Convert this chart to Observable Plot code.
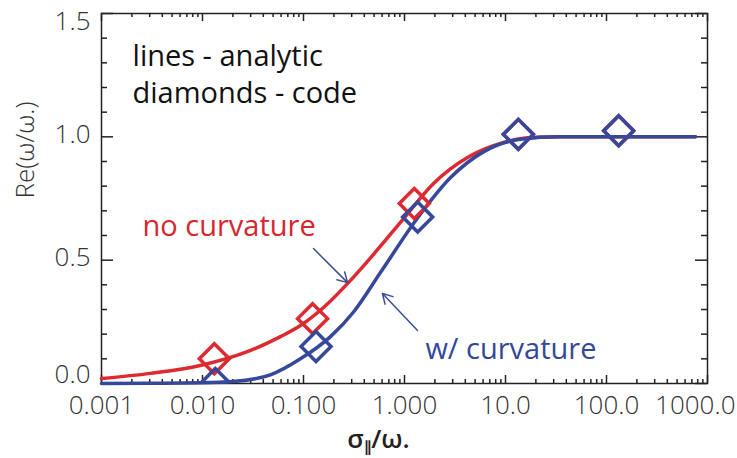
<!DOCTYPE html>
<html>
<head>
<meta charset="utf-8">
<script src="https://cdn.jsdelivr.net/npm/d3@7"></script>
<script src="https://cdn.jsdelivr.net/npm/@observablehq/plot@0.6"></script>
<style>
  html, body { margin: 0; padding: 0; background: #fff; }
  #chart svg { display: block; }
</style>
</head>
<body>
<div id="chart"></div>
<script>
// ---- data ----
const redX  = [0.001, 0.00305, 0.0095, 0.0299, 0.0592, 0.0933, 0.158, 0.292, 0.43, 0.912, 1.94, 4.2, 8.9, 17.7, 35, 760];
const redY  = [0.020, 0.041, 0.073, 0.134, 0.19, 0.235, 0.308, 0.418, 0.495, 0.653, 0.811, 0.916, 0.973, 0.997, 1.0, 1.0];
const blueX = [0.001, 0.00305, 0.0095, 0.02, 0.047, 0.0933, 0.185, 0.313, 0.578, 1.34, 2.86, 6.1, 14, 35, 760];
const blueY = [0.0, 0.001, 0.003, 0.008, 0.035, 0.10, 0.19, 0.29, 0.45, 0.67, 0.835, 0.94, 0.99, 1.0, 1.0];

const redDiamondX  = [0.0131, 0.123, 1.25, 13.4, 132];
const redDiamondY  = [0.10, 0.263, 0.73, 1.01, 1.025];
const blueDiamondX = [0.0134, 0.133, 1.35, 13.4, 132];
const blueDiamondY = [0.0, 0.15, 0.675, 1.01, 1.025];

const xMajor  = [0.001, 0.01, 0.1, 1, 10, 100, 1000];
const xLabels = ["0.001", "0.010", "0.100", "1.000", "10.0", "100.0", "1000.0"];
const xMinor  = xMajor.slice(0, -1).flatMap(d => [2, 3, 4, 5, 6, 7, 8, 9].map(m => d * m));
const yMajor  = [0, 0.5, 1.0, 1.5];
const yLabels = ["0.0", "0.5", "1.0", "1.5"];
const yMinor  = [0.1, 0.2, 0.3, 0.4, 0.6, 0.7, 0.8, 0.9, 1.1, 1.2, 1.3, 1.4];

const notes = [
  {text: "lines - analytic", x: 0.00203, y: 1.289, color: "#111"},
  {text: "diamonds - code",  x: 0.00203, y: 1.139, color: "#111"},
  {text: "no curvature",     x: 0.00255, y: 0.600, color: "#d8262e"},
  {text: "w/ curvature",     x: 1.61,    y: 0.101, color: "#34489a"}
];
const arrows = [
  {x1: 0.1256, y1: 0.547, x2: 0.273, y2: 0.409},
  {x1: 1.346,  y1: 0.215, x2: 0.605, y2: 0.365}
];

const xTitle = "σ∥/ω.";
const yTitle = "Re(ω/ω.)";

// ---- tables ----
const red  = redX.map((x, i) => ({x, y: redY[i]}));
const blue = blueX.map((x, i) => ({x, y: blueY[i]}));
const redD  = redDiamondX.map((x, i) => ({x, y: redDiamondY[i]}));
const blueD = blueDiamondX.map((x, i) => ({x, y: blueDiamondY[i]}));

const RED = "#dd2a31", BLUE = "#35489a";
const W = 737, H = 458, mL = 101, mR = 30, mT = 13, mB = 75;
const fw = W - mL - mR, fh = H - mT - mB;
const FONT = "'Open Sans', 'DejaVu Sans', sans-serif";
const tickLabel = {fontSize: 26, fontWeight: 300, fill: "#333"};

const plot = Plot.plot({
  width: W, height: H,
  marginLeft: mL, marginRight: mR, marginTop: mT, marginBottom: mB,
  style: {fontFamily: FONT, background: "#fff"},
  x: {type: "log", domain: [0.001, 1000], axis: null},
  y: {domain: [0, 1.5], axis: null},
  marks: [
    // inward ticks on all four sides
    Plot.tickY(yMajor, {y: d => d, insetRight: fw - 12, stroke: "#222", strokeWidth: 1.5}),
    Plot.tickY(yMinor, {y: d => d, insetRight: fw - 6, stroke: "#222", strokeWidth: 1.5}),
    Plot.tickY(yMajor, {y: d => d, insetLeft: fw - 12, stroke: "#222", strokeWidth: 1.5}),
    Plot.tickY(yMinor, {y: d => d, insetLeft: fw - 6, stroke: "#222", strokeWidth: 1.5}),
    Plot.tickX(xMajor, {x: d => d, insetTop: fh - 8, stroke: "#222", strokeWidth: 1.5}),
    Plot.tickX(xMinor, {x: d => d, insetTop: fh - 4, stroke: "#222", strokeWidth: 1.5}),
    Plot.tickX(xMajor, {x: d => d, insetBottom: fh - 8, stroke: "#222", strokeWidth: 1.5}),
    Plot.tickX(xMinor, {x: d => d, insetBottom: fh - 4, stroke: "#222", strokeWidth: 1.5}),
    Plot.frame({stroke: "#222", strokeWidth: 1.5}),
    // y tick labels
    Plot.text(yMajor.slice(0, 1), {y: d => d, text: () => yLabels[0], frameAnchor: "left", textAnchor: "end", dx: -11, dy: -9, ...tickLabel}),
    Plot.text(yMajor.slice(1, 3), {y: d => d, text: (d, i) => yLabels[i + 1], frameAnchor: "left", textAnchor: "end", dx: -11, dy: -2, ...tickLabel}),
    Plot.text(yMajor.slice(3), {y: d => d, text: () => yLabels[3], frameAnchor: "left", textAnchor: "end", lineAnchor: "top", dx: -11, dy: -2, ...tickLabel}),
    // x tick labels
    Plot.text(xMajor.slice(0, -1), {x: d => d, text: (d, i) => xLabels[i], frameAnchor: "bottom", dy: 30, ...tickLabel}),
    Plot.text(xMajor.slice(-1), {x: d => d, text: () => xLabels[xLabels.length - 1], frameAnchor: "bottom", dy: 30,
      textAnchor: "end", dx: 28, ...tickLabel}),
    // axis titles
    Plot.text([xTitle], {text: d => d, frameAnchor: "bottom", lineAnchor: "bottom", dy: 64, dx: -26,
      fontSize: 26, fontWeight: 600, fill: "#222"}),
    Plot.text([yTitle], {text: d => d, frameAnchor: "left", rotate: -90, dx: -76,
      fontSize: 26, fontWeight: 300, fill: "#333"}),
    // curves
    Plot.line(red,  {x: "x", y: "y", stroke: RED,  strokeWidth: 3.5, curve: "monotone-x"}),
    Plot.line(blue, {x: "x", y: "y", stroke: BLUE, strokeWidth: 3.5, curve: "monotone-x"}),
    // code diamonds
    Plot.dot(redD,  {x: "x", y: "y", symbol: "diamond2", r: 13.5, stroke: RED,  strokeWidth: 3.5, fill: "none", clip: true}),
    Plot.dot(blueD, {x: "x", y: "y", symbol: "diamond2", r: 13.5, stroke: BLUE, strokeWidth: 3.5, fill: "none", clip: true}),
    // annotations
    Plot.arrow(arrows, {x1: "x1", y1: "y1", x2: "x2", y2: "y2", stroke: "#3d4e96", strokeWidth: 1.5, headLength: 11, bend: false}),
    Plot.text(notes, {x: "x", y: "y", text: "text", fill: "color", textAnchor: "start", lineAnchor: "bottom",
      fontSize: 29})
  ]
});

// subscript for the x title
plot.querySelectorAll("text").forEach(t => {
  if (t.textContent === xTitle) {
    t.textContent = "";
    const ns = "http://www.w3.org/2000/svg";
    const a = document.createElementNS(ns, "tspan"); a.textContent = "σ";
    const b = document.createElementNS(ns, "tspan"); b.textContent = "∥";
    b.setAttribute("font-size", "15"); b.setAttribute("dy", "4");
    const c = document.createElementNS(ns, "tspan"); c.textContent = "/ω."; c.setAttribute("dy", "-4");
    t.append(a, b, c);
  }
});

document.getElementById("chart").append(plot);
</script>
</body>
</html>
